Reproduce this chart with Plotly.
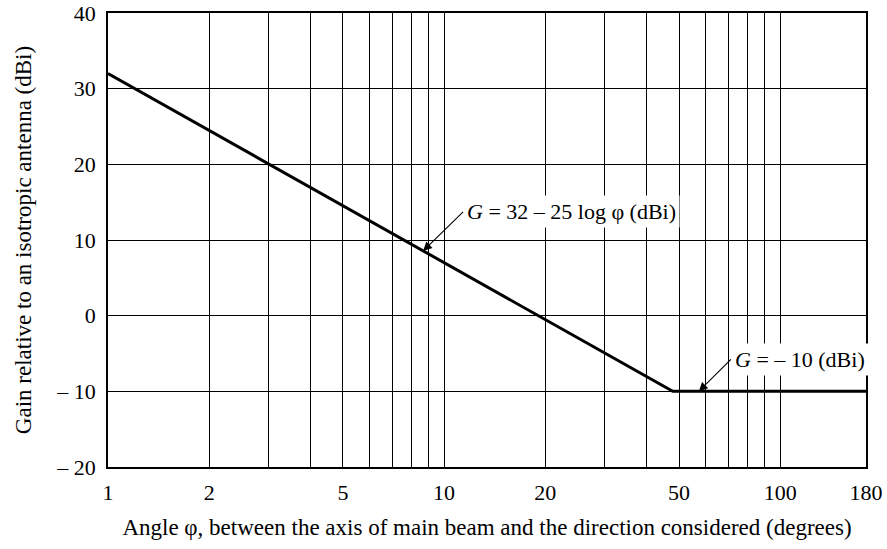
import numpy as np
import plotly.graph_objects as go

# Data
phi = [1, 47.9, 180]            # degrees
gain = [32, -10, -10]           # dBi

x_tickvals = [1, 2, 3, 4, 5, 6, 7, 8, 9, 10, 20, 30, 40, 50, 60, 70, 80, 90, 100, 180]
x_labeled = {1: "1", 2: "2", 5: "5", 10: "10", 20: "20", 50: "50", 100: "100", 180: "180"}
x_ticktext = [x_labeled.get(v, "") for v in x_tickvals]

y_tickvals = [-20, -10, 0, 10, 20, 30, 40]
y_ticktext = ["\u2013 20", "\u2013 10", "0", "10", "20", "30", "40"]

ann1_phi = 8.66
ann2_phi = 57.3

FONT = "Liberation Serif, Times New Roman, serif"

fig = go.Figure()
fig.add_trace(go.Scatter(x=phi, y=gain, mode="lines",
                         line=dict(color="black", width=3), showlegend=False))

fig.update_xaxes(type="log", range=[0, np.log10(180)],
                 tickvals=x_tickvals, ticktext=x_ticktext,
                 showgrid=True, gridcolor="black", gridwidth=1,
                 showline=True, linecolor="black", linewidth=1.5, mirror=True,
                 ticks="", ticklen=0, zeroline=False, automargin=False,
                 ticklabelstandoff=5, ticklabeloverflow="allow",
                 tickfont=dict(family=FONT, size=22, color="black"),
                 title=dict(text="Angle \u03c6, between the axis of main beam and the direction considered (degrees)",
                            font=dict(family=FONT, size=23, color="black"), standoff=15))
fig.update_yaxes(range=[-20, 40], tickvals=y_tickvals, ticktext=y_ticktext,
                 showgrid=True, gridcolor="black", gridwidth=1,
                 showline=True, linecolor="black", linewidth=1.5, mirror=True,
                 ticks="", zeroline=False, automargin=False,
                 ticklabelstandoff=6, ticklabeloverflow="allow",
                 tickfont=dict(family=FONT, size=22, color="black"),
                 title=dict(text="Gain relative to an isotropic antenna (dBi)",
                            font=dict(family=FONT, size=23, color="black"), standoff=18))

ann_common = dict(xref="x", yref="y", showarrow=True, arrowhead=2, arrowsize=1.6,
                  arrowwidth=1.1, arrowcolor="black", bgcolor="white", borderpad=3,
                  xanchor="left", yanchor="middle", standoff=0,
                  font=dict(family=FONT, size=22, color="black"))
fig.add_annotation(x=np.log10(ann1_phi), y=32 - 25 * np.log10(ann1_phi),
                   text="<i>G</i> = 32 \u2013 25 log \u03c6 (dBi)", ax=40, ay=-39, **ann_common)
fig.add_annotation(x=np.log10(ann2_phi), y=-10,
                   text="<i>G</i> = \u2013 10 (dBi)", ax=32, ay=-32, **ann_common)

fig.update_layout(width=887, height=549, plot_bgcolor="white", paper_bgcolor="white",
                  margin=dict(l=108, r=21, t=13, b=82))

fig.write_html("out.html", config={"displayModeBar": False},
               post_script="document.body.style.margin='0';document.body.style.overflow='hidden';")
